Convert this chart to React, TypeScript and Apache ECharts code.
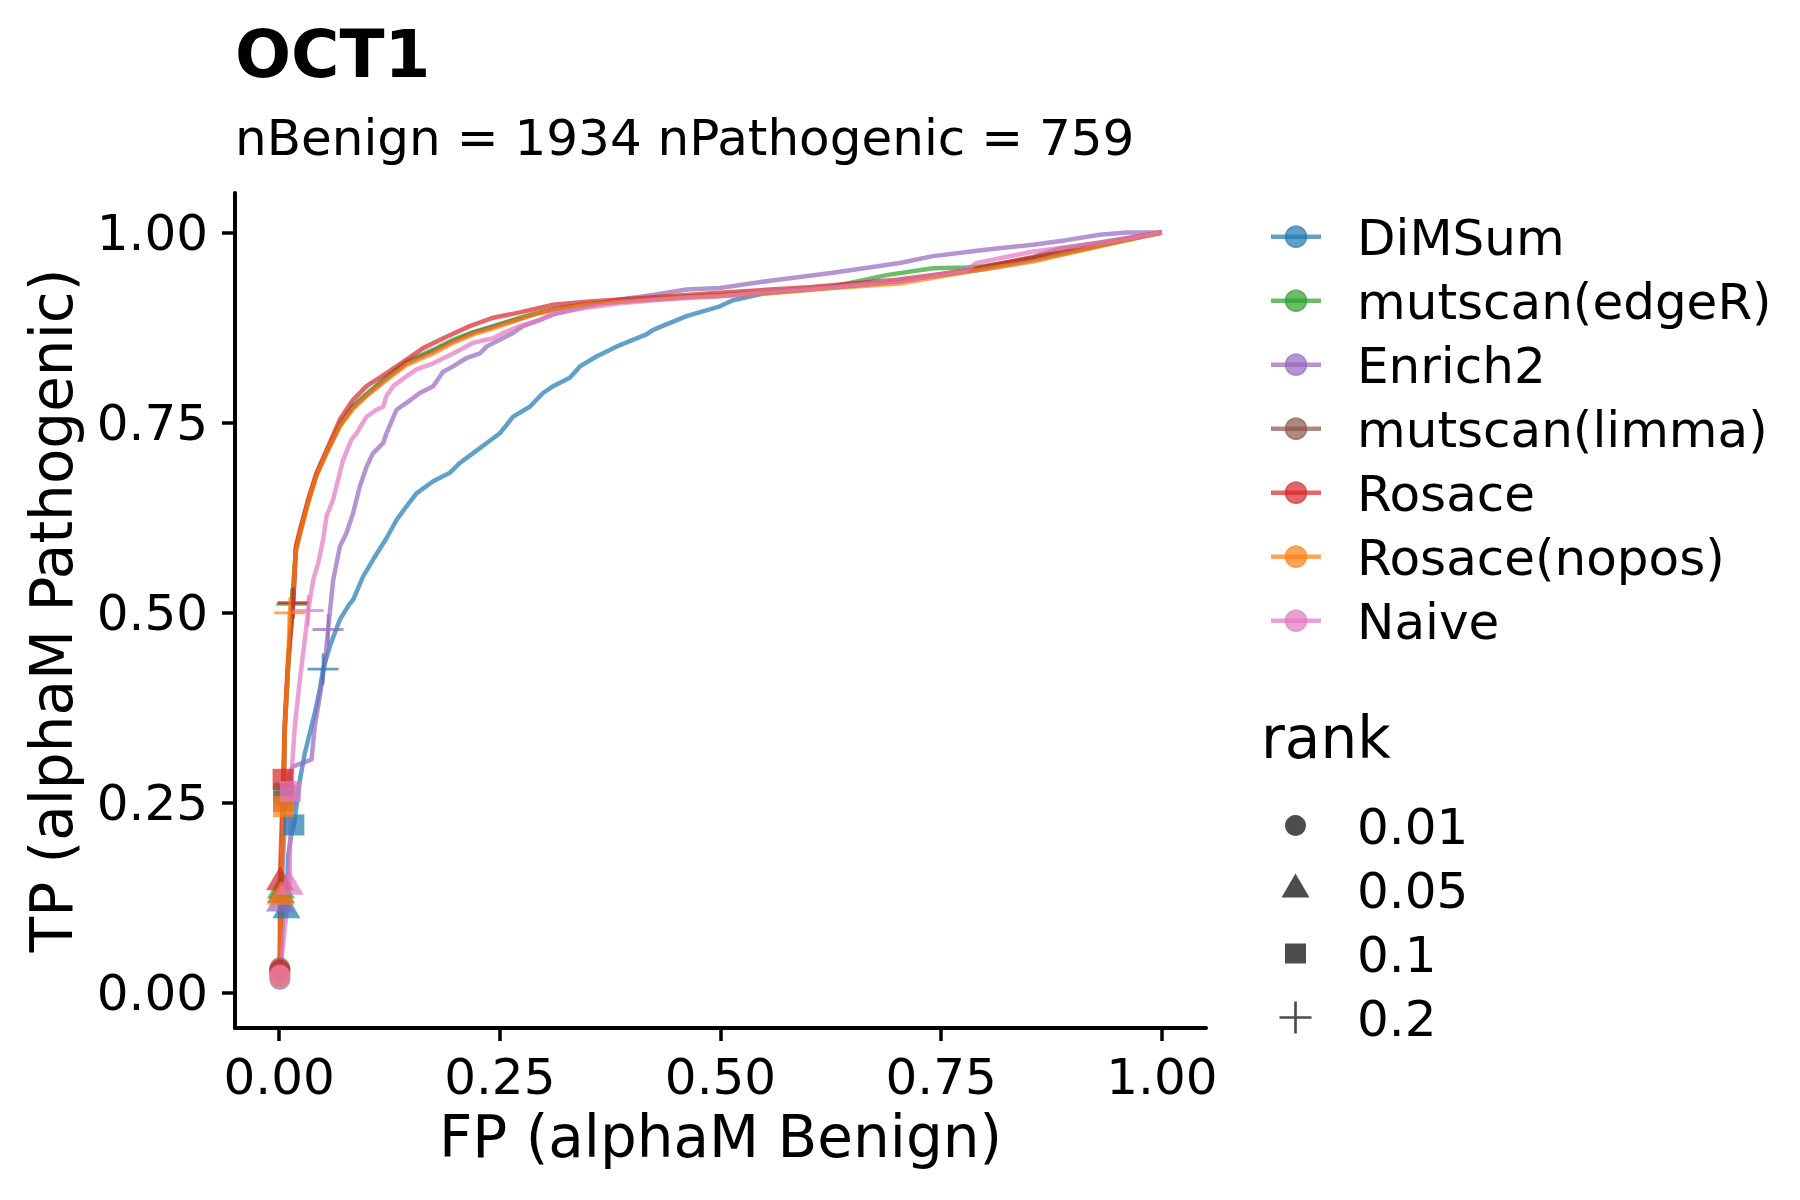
import React, { useEffect, useRef } from "react";
import * as echarts from "echarts";

const FONT = "DejaVu Sans";

const methods = ["DiMSum", "mutscan(edgeR)", "Enrich2", "mutscan(limma)", "Rosace", "Rosace(nopos)", "Naive"];
const colors = ["#1f77b4", "#2ca02c", "#9467bd", "#8c564b", "#d62728", "#ff7f0e", "#e377c2"];

const dimsumFP = [0, 0.001, 0.0046, 0.0083, 0.0102, 0.014, 0.0167, 0.0235, 0.0291, 0.0348, 0.0404, 0.0461, 0.0498, 0.0574, 0.0688, 0.08, 0.0838, 0.0952, 0.1065, 0.1216, 0.133, 0.1443, 0.1556, 0.1745, 0.1934, 0.2047, 0.2198, 0.2349, 0.25, 0.2651, 0.284, 0.299, 0.3104, 0.3293, 0.3407, 0.3595, 0.386, 0.4162, 0.4237, 0.4615, 0.4993, 0.514, 0.55, 0.6, 0.65, 0.7, 0.75, 0.8, 0.85, 0.9, 0.95, 1];
const dimsumTP = [0.013, 0.026, 0.105, 0.114, 0.18, 0.21, 0.221, 0.28, 0.3155, 0.342, 0.368, 0.399, 0.426, 0.456, 0.491, 0.512, 0.517, 0.548, 0.57, 0.598, 0.622, 0.64, 0.657, 0.673, 0.684, 0.697, 0.71, 0.723, 0.736, 0.758, 0.771, 0.789, 0.798, 0.809, 0.824, 0.837, 0.852, 0.866, 0.872, 0.89, 0.903, 0.911, 0.92, 0.925, 0.93, 0.936, 0.944, 0.952, 0.963, 0.975, 0.988, 1];

const edgeRFP = [0, 0.0008, 0.002, 0.005, 0.0065, 0.0102, 0.0144, 0.019, 0.0235, 0.0329, 0.0423, 0.0537, 0.0688, 0.0838, 0.099, 0.1216, 0.1443, 0.1745, 0.1971, 0.2198, 0.2424, 0.2651, 0.2878, 0.3104, 0.3482, 0.386, 0.4237, 0.4615, 0.4993, 0.552, 0.6276, 0.66, 0.688, 0.7408, 0.7786, 0.8, 0.8541, 0.9296, 1];
const edgeRTP = [0.012, 0.03, 0.14, 0.263, 0.35, 0.43, 0.511, 0.585, 0.605, 0.647, 0.682, 0.711, 0.748, 0.772, 0.788, 0.81, 0.83, 0.846, 0.859, 0.869, 0.877, 0.885, 0.893, 0.899, 0.906, 0.91, 0.913, 0.916, 0.918, 0.922, 0.929, 0.937, 0.944, 0.953, 0.954, 0.956, 0.966, 0.983, 1];

const enrich2FP = [0, 0.0008, 0.002, 0.008, 0.012, 0.0159, 0.0367, 0.0404, 0.0461, 0.0518, 0.0555, 0.0612, 0.0688, 0.0763, 0.0838, 0.0914, 0.099, 0.1065, 0.1178, 0.1216, 0.133, 0.1443, 0.1594, 0.1745, 0.1858, 0.1971, 0.2123, 0.2274, 0.2349, 0.25, 0.2651, 0.2764, 0.2953, 0.3104, 0.3482, 0.386, 0.4237, 0.4615, 0.4993, 0.552, 0.6276, 0.7031, 0.7408, 0.7975, 0.8541, 0.8918, 0.9296, 0.96, 1];
const enrich2TP = [0.01, 0.018, 0.123, 0.26, 0.29, 0.298, 0.307, 0.351, 0.39, 0.434, 0.478, 0.543, 0.587, 0.605, 0.631, 0.666, 0.692, 0.71, 0.723, 0.736, 0.767, 0.776, 0.789, 0.798, 0.817, 0.824, 0.835, 0.841, 0.85, 0.859, 0.868, 0.877, 0.885, 0.892, 0.903, 0.912, 0.918, 0.925, 0.927, 0.936, 0.947, 0.96, 0.969, 0.977, 0.984, 0.99, 0.997, 1, 1];

const limmaFP = [0, 0.0008, 0.002, 0.005, 0.0065, 0.0102, 0.0159, 0.019, 0.0235, 0.0329, 0.0423, 0.0537, 0.0688, 0.0838, 0.099, 0.1216, 0.1443, 0.1745, 0.1971, 0.2198, 0.2424, 0.2651, 0.2878, 0.3104, 0.3482, 0.386, 0.4237, 0.4615, 0.4993, 0.552, 0.6276, 0.7031, 0.7786, 0.8541, 0.884, 0.9296, 1];
const limmaTP = [0.012, 0.033, 0.134, 0.252, 0.35, 0.43, 0.513, 0.583, 0.604, 0.646, 0.681, 0.71, 0.746, 0.77, 0.786, 0.808, 0.828, 0.844, 0.857, 0.868, 0.876, 0.884, 0.892, 0.899, 0.905, 0.909, 0.912, 0.915, 0.917, 0.921, 0.928, 0.936, 0.95, 0.968, 0.979, 0.987, 1];

const rosaceFP = [0, 0.0008, 0.001, 0.0045, 0.0065, 0.0102, 0.0159, 0.019, 0.0235, 0.0329, 0.0423, 0.0537, 0.0688, 0.0838, 0.099, 0.1216, 0.1443, 0.1631, 0.1896, 0.216, 0.2424, 0.2727, 0.3104, 0.3482, 0.386, 0.4237, 0.4615, 0.4993, 0.6, 0.7, 0.78, 0.85, 0.9, 0.95, 1];
const rosaceTP = [0.012, 0.03, 0.151, 0.281, 0.36, 0.44, 0.513, 0.587, 0.609, 0.649, 0.684, 0.714, 0.754, 0.78, 0.798, 0.815, 0.833, 0.848, 0.863, 0.877, 0.888, 0.895, 0.905, 0.909, 0.912, 0.915, 0.918, 0.921, 0.928, 0.938, 0.95, 0.966, 0.977, 0.989, 1];

const noposFP = [0, 0.0008, 0.002, 0.005, 0.0065, 0.0102, 0.0121, 0.0159, 0.019, 0.0235, 0.0329, 0.0423, 0.0537, 0.0688, 0.0838, 0.099, 0.1216, 0.1443, 0.1745, 0.1971, 0.2198, 0.2424, 0.2651, 0.2878, 0.3104, 0.3482, 0.386, 0.4237, 0.4615, 0.4993, 0.552, 0.6276, 0.7031, 0.7786, 0.8541, 0.9296, 1];
const noposTP = [0.011, 0.022, 0.132, 0.245, 0.35, 0.43, 0.5, 0.53, 0.58, 0.603, 0.645, 0.68, 0.71, 0.745, 0.768, 0.785, 0.806, 0.826, 0.841, 0.855, 0.866, 0.874, 0.883, 0.892, 0.898, 0.905, 0.909, 0.912, 0.915, 0.917, 0.92, 0.927, 0.933, 0.948, 0.962, 0.982, 1];

const naiveFP = [0, 0.0008, 0.012, 0.0127, 0.0178, 0.0235, 0.0291, 0.0329, 0.0386, 0.0442, 0.0498, 0.0537, 0.0612, 0.0668, 0.0725, 0.082, 0.0877, 0.099, 0.1103, 0.1178, 0.1216, 0.1292, 0.1443, 0.1556, 0.1745, 0.1971, 0.2198, 0.2424, 0.2538, 0.2727, 0.2953, 0.3104, 0.3482, 0.386, 0.4237, 0.4615, 0.4993, 0.552, 0.6276, 0.7031, 0.7786, 0.79, 0.8541, 0.9296, 1];
const naiveTP = [0.01, 0.024, 0.145, 0.265, 0.351, 0.412, 0.465, 0.503, 0.543, 0.565, 0.596, 0.627, 0.649, 0.675, 0.701, 0.728, 0.736, 0.758, 0.767, 0.771, 0.785, 0.798, 0.811, 0.82, 0.828, 0.841, 0.855, 0.861, 0.868, 0.877, 0.885, 0.894, 0.901, 0.907, 0.911, 0.914, 0.916, 0.922, 0.928, 0.937, 0.95, 0.96, 0.975, 0.986, 1];

const curveFP = [dimsumFP, edgeRFP, enrich2FP, limmaFP, rosaceFP, noposFP, naiveFP];
const curveTP = [dimsumTP, edgeRTP, enrich2TP, limmaTP, rosaceTP, noposTP, naiveTP];

// rank cut-offs: 0.01, 0.05, 0.1, 0.2
const rankLabels = ["0.01", "0.05", "0.1", "0.2"];
const rankFP = [
  [0.0008, 0.0083, 0.0167, 0.0498],
  [0.0008, 0.002, 0.005, 0.0144],
  [0.0008, 0.001, 0.008, 0.0555],
  [0.0008, 0.002, 0.005, 0.0159],
  [0.0008, 0.001, 0.0045, 0.0159],
  [0.0008, 0.002, 0.005, 0.0121],
  [0.0008, 0.012, 0.0127, 0.0329],
];
const rankTP = [
  [0.026, 0.114, 0.221, 0.426],
  [0.03, 0.14, 0.263, 0.511],
  [0.018, 0.123, 0.26, 0.478],
  [0.033, 0.134, 0.252, 0.513],
  [0.03, 0.151, 0.281, 0.513],
  [0.022, 0.132, 0.245, 0.5],
  [0.024, 0.145, 0.265, 0.503],
];

const xTicks = [0, 0.25, 0.5, 0.75, 1];
const yTicks = [0, 0.25, 0.5, 0.75, 1];

const plusSymbol = "path://M45.5,0h9v45.5h45.5v9h-45.5v45.5h-9v-45.5h-45.5v-9h45.5z";
const rankSymbols = ["circle", "triangle", "rect", plusSymbol];
const rankSizes: any[] = [21, [28, 24], 21, 31];

function buildOption() {
  const lineSeries = methods.map((m, i) => ({
    type: "line",
    name: m,
    data: curveFP[i].map((x, j) => [x, curveTP[i][j]]),
    showSymbol: false,
    symbol: "none",
    silent: true,
    lineStyle: { color: colors[i], width: 4.5, opacity: 0.7 },
    z: 2,
  }));
  const pointSeries = methods.map((m, i) => ({
    type: "scatter",
    name: m + " rank",
    data: rankFP[i].map((x, j) => ({
      value: [x, rankTP[i][j]],
      symbol: rankSymbols[j],
      symbolSize: rankSizes[j],
    })),
    itemStyle: { color: colors[i], opacity: 0.7 },
    z: 3,
  }));

  const legendX = 1271;
  const rowY0 = 236.7;
  const rowGap = 64;
  const smallFont = 50;
  const graphics: any[] = [];
  methods.forEach((m, i) => {
    const y = rowY0 + rowGap * i;
    graphics.push({
      type: "line",
      shape: { x1: legendX, y1: y, x2: legendX + 50, y2: y },
      style: { stroke: colors[i], lineWidth: 4.5, opacity: 0.7 },
    });
    graphics.push({
      type: "circle",
      shape: { cx: legendX + 25, cy: y, r: 10.5 },
      style: { fill: colors[i], stroke: colors[i], lineWidth: 1.5, opacity: 0.7 },
    });
    graphics.push({
      type: "text",
      x: 1357,
      y: y + 1,
      style: { text: m, fontSize: smallFont, fontFamily: FONT, fill: "#000", verticalAlign: "middle", align: "left" },
    });
  });
  graphics.push({
    type: "text",
    x: 1261,
    y: 738,
    style: { text: "rank", fontSize: 58, fontFamily: FONT, fill: "#000", verticalAlign: "middle", align: "left" },
  });
  const grey = "#4d4d4d";
  const shapeRows = [825.5, 889.5, 953.5, 1017.5];
  const cx = 1295.5;
  graphics.push({ type: "circle", shape: { cx, cy: shapeRows[0], r: 10.5 }, style: { fill: grey } });
  graphics.push({
    type: "polygon",
    shape: { points: [[cx - 14, shapeRows[1] + 8], [cx + 14, shapeRows[1] + 8], [cx, shapeRows[1] - 16]] },
    style: { fill: grey },
  });
  graphics.push({ type: "rect", shape: { x: cx - 10.5, y: shapeRows[2] - 10, width: 21, height: 20 }, style: { fill: grey } });
  graphics.push({ type: "line", shape: { x1: cx - 16, y1: shapeRows[3], x2: cx + 16, y2: shapeRows[3] }, style: { stroke: grey, lineWidth: 2.7 } });
  graphics.push({ type: "line", shape: { x1: cx, y1: shapeRows[3] - 16, x2: cx, y2: shapeRows[3] + 16 }, style: { stroke: grey, lineWidth: 2.7 } });
  rankLabels.forEach((r, k) => {
    graphics.push({
      type: "text",
      x: 1357,
      y: shapeRows[k] + 1,
      style: { text: r, fontSize: smallFont, fontFamily: FONT, fill: "#000", verticalAlign: "middle", align: "left" },
    });
  });

  const axisCommon = {
    type: "value",
    splitLine: { show: false },
    axisLine: { show: true, onZero: false, lineStyle: { color: "#000", width: 4 } },
    axisTick: { show: true, length: 13, lineStyle: { color: "#000", width: 3.5 } },
  };

  return {
    animation: false,
    backgroundColor: "#fff",
    textStyle: { fontFamily: FONT },
    title: {
      text: "OCT1",
      subtext: "nBenign = 1934 nPathogenic = 759",
      left: 235,
      top: 21,
      padding: 0,
      itemGap: 26,
      textStyle: { fontSize: 66, fontWeight: "bold", color: "#000", fontFamily: FONT },
      subtextStyle: { fontSize: 50, color: "#000", fontFamily: FONT },
    },
    grid: { left: 235, top: 193, width: 971, height: 835, containLabel: false },
    xAxis: {
      ...axisCommon,
      min: -0.05,
      max: 1.05,
      name: "FP (alphaM Benign)",
      nameLocation: "middle",
      nameGap: 80,
      nameTextStyle: { fontSize: 58, color: "#000", fontFamily: FONT },
      axisTick: { ...axisCommon.axisTick, customValues: xTicks },
      axisLabel: {
        customValues: xTicks,
        margin: 24,
        fontSize: smallFont,
        color: "#000",
        fontFamily: FONT,
        formatter: (v: number) => v.toFixed(2),
      },
    },
    yAxis: {
      ...axisCommon,
      min: -0.046,
      max: 1.052,
      name: "TP (alphaM Pathogenic)",
      nameLocation: "middle",
      nameGap: 154,
      nameTextStyle: { fontSize: 58, color: "#000", fontFamily: FONT },
      axisTick: { ...axisCommon.axisTick, customValues: yTicks },
      axisLabel: {
        customValues: yTicks,
        margin: 27,
        fontSize: smallFont,
        color: "#000",
        fontFamily: FONT,
        formatter: (v: number) => v.toFixed(2),
      },
    },
    series: [...lineSeries, ...pointSeries],
    graphic: graphics,
  };
}

export default function App() {
  const ref = useRef<HTMLDivElement>(null);
  useEffect(() => {
    if (!ref.current) return;
    const chart = echarts.init(ref.current, null, { renderer: "svg" });
    chart.setOption(buildOption() as any);
    return () => chart.dispose();
  }, []);
  return (
    <div
      ref={ref}
      style={{ position: "fixed", left: 0, top: 0, width: 1800, height: 1200, background: "#fff" }}
    />
  );
}
